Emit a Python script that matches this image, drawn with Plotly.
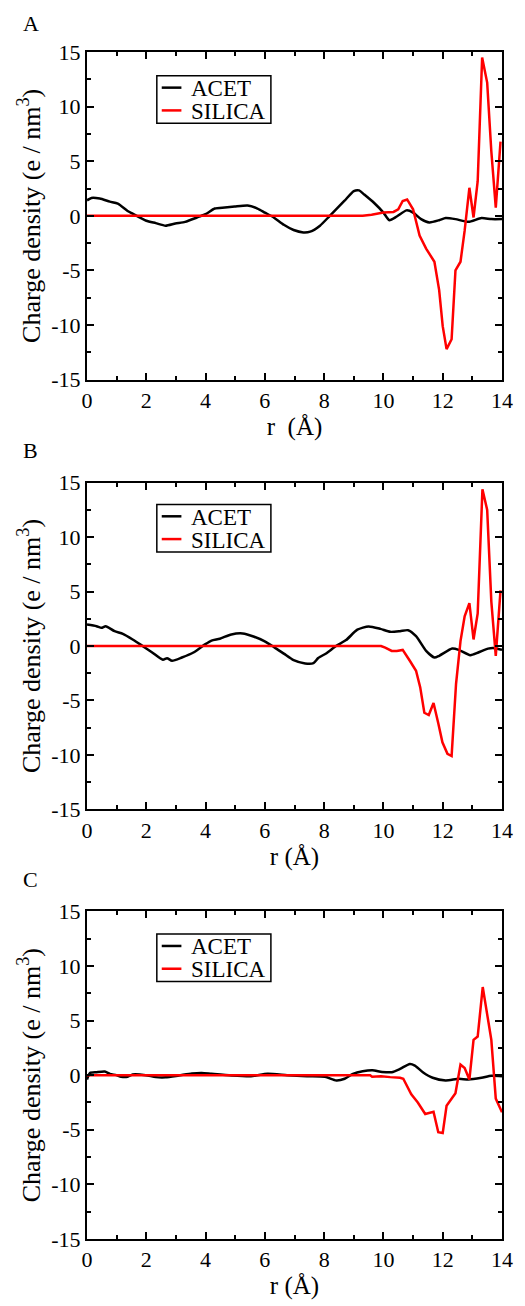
import plotly.graph_objects as go

# ---------------- data ----------------
a_acet_r = [0, 0.15, 0.43, 0.77, 1.04, 1.37, 1.54, 2.0, 2.32, 2.65, 2.98, 3.31, 3.76, 4.0, 4.31, 4.65,
            4.98, 5.42, 5.75, 6.0, 6.3, 6.64, 6.97, 7.3, 7.53, 7.86, 8.19, 8.68, 9.0, 9.18, 9.35, 9.68,
            10.0, 10.2, 10.45, 10.78, 11.0, 11.27, 11.55, 11.88, 12.1, 12.43, 12.87, 13.31, 13.64, 14.0]
a_acet_v = [1.42, 1.64, 1.58, 1.3, 1.12, 0.45, 0.2, -0.45, -0.67, -0.9, -0.7, -0.55, -0.1, 0.15, 0.67, 0.76,
            0.85, 0.94, 0.67, 0.3, -0.15, -0.82, -1.3, -1.52, -1.45, -0.9, 0.0, 1.36, 2.27, 2.33, 1.96, 1.2,
            0.3, -0.4, -0.06, 0.5, 0.3, -0.3, -0.6, -0.4, -0.2, -0.3, -0.55, -0.2, -0.3, -0.3]
a_sil_r = [0, 9.3, 9.6, 10.0, 10.34, 10.5, 10.65, 10.8, 11.0, 11.22, 11.44, 11.72, 11.88, 12.0, 12.13,
           12.3, 12.43, 12.6, 12.74, 12.9, 13.04, 13.18, 13.33, 13.5, 13.64, 13.79, 13.95]
a_sil_v = [0, 0, 0.1, 0.3, 0.36, 0.6, 1.36, 1.5, 0.6, -1.8, -3.0, -4.2, -6.8, -10.1, -12.2,
           -11.3, -5.0, -4.2, -1.36, 2.57, -0.15, 3.17, 14.5, 12.2, 5.9, 0.76, 6.8]

b_acet_r = [0, 0.32, 0.49, 0.63, 0.93, 1.21, 1.54, 1.82, 2.2, 2.56, 2.7, 2.87, 3.2, 3.59, 3.98, 4.2,
            4.48, 4.87, 5.25, 5.64, 5.98, 6.31, 6.64, 6.97, 7.36, 7.64, 7.8, 8.08, 8.4, 8.74, 9.12, 9.5,
            9.9, 10.23, 10.56, 10.83, 11.1, 11.44, 11.72, 11.88, 12.32, 12.54, 12.93, 13.2, 13.53, 13.76, 14.0]
b_acet_v = [1.97, 1.82, 1.67, 1.82, 1.36, 1.12, 0.6, 0.1, -0.6, -1.27, -1.12, -1.36, -1.06, -0.6, 0.15, 0.5,
            0.67, 1.06, 1.15, 0.85, 0.45, -0.1, -0.7, -1.3, -1.6, -1.57, -1.1, -0.66, 0.0, 0.54, 1.5, 1.8,
            1.57, 1.3, 1.36, 1.45, 0.9, -0.45, -1.06, -0.9, -0.24, -0.36, -0.85, -0.6, -0.24, -0.2, -0.36]
b_sil_r = [0, 9.92, 10.06, 10.28, 10.45, 10.65, 10.89, 11.1, 11.24, 11.38, 11.53, 11.69, 11.85, 11.99,
           12.16, 12.3, 12.45, 12.6, 12.74, 12.9, 13.04, 13.18, 13.34, 13.5, 13.64, 13.79, 13.95]
b_sil_v = [0, 0, -0.15, -0.45, -0.45, -0.36, -1.36, -2.27, -3.78, -6.13, -6.34, -5.23, -7.1, -8.85,
           -9.9, -10.1, -3.47, 0.45, 2.72, 3.93, 0.6, 3.0, 14.4, 12.5, 4.08, -0.9, 5.1]

c_acet_r = [0, 0.1, 0.32, 0.6, 0.77, 0.99, 1.15, 1.37, 1.54, 1.98, 2.32, 2.65, 3.1, 3.54, 3.87, 4.2,
            4.87, 5.53, 6.09, 6.75, 7.42, 8.03, 8.41, 8.69, 8.97, 9.3, 9.63, 9.95, 10.28, 10.56, 10.89,
            11.06, 11.33, 11.66, 12.1, 12.54, 12.87, 13.31, 13.64, 14.0]
c_acet_v = [-0.4, 0.2, 0.27, 0.33, 0.12, 0.0, -0.15, -0.15, 0.06, 0.0, -0.18, -0.2, -0.03, 0.15, 0.2, 0.12,
            -0.03, -0.1, 0.12, 0.0, -0.1, -0.15, -0.48, -0.33, 0.12, 0.36, 0.45, 0.3, 0.27, 0.57, 1.03,
            0.88, 0.27, -0.24, -0.48, -0.33, -0.4, -0.24, -0.06, -0.1]
c_sil_r = [0, 9.55, 9.62, 9.92, 10.23, 10.56, 10.67, 10.94, 11.16, 11.41, 11.69, 11.85, 12.0, 12.13,
           12.43, 12.6, 12.74, 12.9, 13.04, 13.18, 13.35, 13.5, 13.64, 13.79, 14.0]
c_sil_v = [0, 0, -0.15, -0.1, -0.18, -0.24, -0.33, -1.75, -2.5, -3.56, -3.35, -5.23, -5.3, -2.8,
           -1.66, 0.97, 0.66, -0.4, 3.23, 3.53, 8.07, 5.65, 3.23, -2.15, -3.4]

panel_labels = ["A", "B", "C"]
series_names = ["ACET", "SILICA"]
series_colors = ["black", "#ff0000"]
x_ticks = [0, 2, 4, 6, 8, 10, 12, 14]
y_ticks = [-15, -10, -5, 0, 5, 10, 15]
y_ticktext = ["-15", "-10", "-5", "0", "5", "10", "15"]
x_titles = ["r  (\u00c5)", "r (\u00c5)", "r (\u00c5)"]
y_title = "Charge density (e / nm<sup>3</sup>)"

panels = [
    (a_acet_r, a_acet_v, a_sil_r, a_sil_v),
    (b_acet_r, b_acet_v, b_sil_r, b_sil_v),
    (c_acet_r, c_acet_v, c_sil_r, c_sil_v),
]

# ---------------- layout geometry ----------------
W, H = 525, 1306
ML, MR, MT, MB = 87, 16, 52, 55
plot_h = H - MT - MB
plot_w = W - ML - MR
panel_px = [(52, 383), (487, 817), (920, 1251)]   # (top, bottom) in page px
letter_px = [23, 455, 888]
# legend box (page px, relative to panel top)
LEG_LEFT, LEG_RIGHT = 158, 274
LEG_TOP_OFF = [24, 22, 23]      # box top below panel top
LEG_H = 48
SAMPLE_X0, SAMPLE_X1, TEXT_X = 163, 183, 191
ROW_OFF = [12, 35]              # row centres below box top

FONT = "Liberation Serif, Times New Roman, serif"


def py(pix):
    return (H - MB - pix) / plot_h


def px(pix):
    return (pix - ML) / plot_w


fig = go.Figure()
for i, (ar, av, sr, sv) in enumerate(panels):
    n = "" if i == 0 else str(i + 1)
    fig.add_trace(go.Scatter(x=ar, y=av, mode="lines", name=series_names[0],
                             line=dict(color=series_colors[0], width=2.5, shape="spline", smoothing=0.6),
                             xaxis="x" + n, yaxis="y" + n, showlegend=False))
    fig.add_trace(go.Scatter(x=sr, y=sv, mode="lines", name=series_names[1],
                             line=dict(color=series_colors[1], width=2.5),
                             xaxis="x" + n, yaxis="y" + n, showlegend=False))

layout = dict(
    width=W, height=H,
    margin=dict(l=ML, r=MR, t=MT, b=MB),
    paper_bgcolor="white", plot_bgcolor="white",
    font=dict(family=FONT, color="black"),
    annotations=[], shapes=[], showlegend=False,
)

for i in range(3):
    n = "" if i == 0 else str(i + 1)
    top, bot = panel_px[i]
    layout["xaxis" + n] = dict(
        domain=[0, 1], anchor="y" + n, range=[0, 14],
        tickvals=x_ticks, ticks="inside", ticklen=7, tickwidth=1.5, tickcolor="black",
        minor=dict(ticks="inside", ticklen=4, tickwidth=1.5, tickcolor="black", dtick=1, tick0=0),
        showline=True, linewidth=2, linecolor="black", mirror="ticks",
        showgrid=False, zeroline=False,
        tickfont=dict(family=FONT, size=22, color="black"),
        title=dict(text=x_titles[i], font=dict(family=FONT, size=25, color="black"), standoff=4),
    )
    layout["yaxis" + n] = dict(
        domain=[py(bot), py(top)], anchor="x" + n, range=[-15, 15],
        tickvals=y_ticks, ticktext=y_ticktext,
        ticks="inside", ticklen=7, tickwidth=1.5, tickcolor="black",
        minor=dict(ticks="inside", ticklen=4, tickwidth=1.5, tickcolor="black", dtick=2.5, tick0=0),
        showline=True, linewidth=2, linecolor="black", mirror="ticks",
        showgrid=False, zeroline=False,
        tickfont=dict(family=FONT, size=22, color="black"),
        title=dict(text=y_title, font=dict(family=FONT, size=26, color="black"), standoff=3),
    )
    # panel letter
    layout["annotations"].append(dict(
        text=panel_labels[i], xref="paper", yref="paper",
        x=px(30), y=py(letter_px[i]), xanchor="center", yanchor="middle",
        showarrow=False, font=dict(family=FONT, size=22, color="black"),
    ))
    # legend box
    btop = top + LEG_TOP_OFF[i]
    layout["shapes"].append(dict(
        type="rect", xref="paper", yref="paper",
        x0=px(LEG_LEFT), x1=px(LEG_RIGHT), y0=py(btop + LEG_H), y1=py(btop),
        line=dict(color="black", width=1.5), fillcolor="white", layer="above",
    ))
    for k in range(2):
        yc = btop + ROW_OFF[k]
        layout["shapes"].append(dict(
            type="line", xref="paper", yref="paper",
            x0=px(SAMPLE_X0), x1=px(SAMPLE_X1), y0=py(yc), y1=py(yc),
            line=dict(color=series_colors[k], width=2.5), layer="above",
        ))
        layout["annotations"].append(dict(
            text=series_names[k], xref="paper", yref="paper",
            x=px(TEXT_X), y=py(yc + 1), xanchor="left", yanchor="middle",
            showarrow=False, font=dict(family=FONT, size=23, color="black"),
        ))

fig.update_layout(**layout)
fig.write_html("out.html")
